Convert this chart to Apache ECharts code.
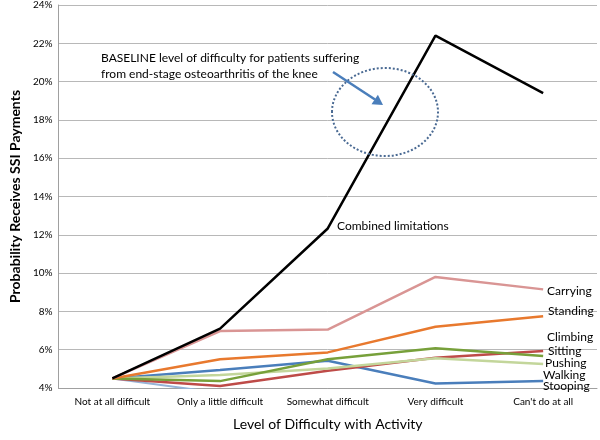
<!DOCTYPE html>
<html>
<head>
<meta charset="utf-8">
<script src="https://cdn.jsdelivr.net/npm/echarts@6/dist/echarts.min.js"></script>
<style>
  html, body { margin: 0; padding: 0; background: #fff; }
  #chart { width: 600px; height: 440px; }
</style>
</head>
<body>
<div id="chart"></div>
<script>
// categories on x axis
const levels = ["Not at all difficult", "Only a little difficult", "Somewhat difficult", "Very difficult", "Can't do at all"];

// probability (%) of receiving SSI payments, per activity
const combined = [4.5, 7.1, 12.33, 22.4, 19.4];
const carrying = [4.5, 6.97, 7.05, 9.8, 9.15];
const standing = [4.5, 5.5, 5.86, 7.2, 7.75];
const climbing = [4.5, 4.36, 5.5, 6.07, 5.67];
const sitting = [4.5, 4.1, 4.9, 5.58, 5.93];
const pushing = [4.5, 4.68, 5.02, 5.55, 5.25];
const walking = [4.5, 3.74, 3.7, 3.6, 3.6];
const stooping = [4.5, 4.94, 5.42, 4.24, 4.36];

const yTicks = { min: 4, max: 24, step: 2 };

const font = "Lato, 'Open Sans', sans-serif";

const chartDom = document.getElementById("chart");
const myChart = echarts.init(chartDom);

function line(name, data, color, width) {
  return {
    name: name,
    type: "line",
    data: data,
    symbol: "none",
    clip: true,
    lineStyle: { color: color, width: width },
    itemStyle: { color: color },
    animation: false,
  };
}

// text labels next to the line ends
const endLabels = [
  ["Carrying", 547, 291],
  ["Standing", 548, 311],
  ["Climbing", 547, 337],
  ["Sitting", 548, 351],
  ["Pushing", 545, 363],
  ["Walking", 543, 375],
  ["Stooping", 543, 386],
  ["Combined limitations", 337, 226],
];

const graphics = endLabels.map(function (l) {
  return {
    type: "text",
    x: l[1],
    y: l[2],
    z: 100,
    style: {
      text: l[0],
      font: "12px " + font,
      fill: "#000",
      textAlign: "left",
      textVerticalAlign: "middle",
    },
  };
});

// annotation
graphics.push({
  type: "text",
  x: 101,
  y: 50,
  z: 100,
  style: {
    text: "BASELINE level of difficulty for patients suffering\nfrom end-stage osteoarthritis of the knee",
    font: "12px " + font,
    lineHeight: 16,
    fill: "#000",
  },
});
graphics.push({
  type: "ellipse",
  z: 90,
  shape: { cx: 385, cy: 112, rx: 53, ry: 44 },
  style: { fill: "none", stroke: "#4A6A93", lineWidth: 2, lineDash: [2, 2] },
});
graphics.push({
  type: "line",
  z: 95,
  shape: { x1: 333, y1: 72, x2: 375, y2: 99.5 },
  style: { stroke: "#4A7EBB", lineWidth: 2.5 },
});
graphics.push({
  type: "polygon",
  z: 95,
  shape: { points: [[383, 105], [371.5, 104.2], [377.9, 94.8]] },
  style: { fill: "#4A7EBB" },
});

const option = {
  backgroundColor: "#fff",
  animation: false,
  grid: { left: 47, right: 3, top: 4, bottom: 52, containLabel: false },
  xAxis: {
    type: "category",
    data: levels,
    boundaryGap: true,
    name: "Level of Difficulty with Activity",
    nameLocation: "middle",
    nameGap: 29,
    nameTextStyle: { fontFamily: font, fontSize: 14, color: "#000" },
    axisLine: { lineStyle: { color: "#A0A0A0", width: 1 } },
    axisTick: { show: false },
    axisLabel: { fontFamily: font, fontSize: 10, color: "#000", margin: 9, interval: 0 },
  },
  yAxis: {
    type: "value",
    min: yTicks.min,
    max: yTicks.max,
    interval: yTicks.step,
    name: "Probability Receives SSI Payments",
    nameLocation: "middle",
    nameGap: 28,
    nameTextStyle: { fontFamily: font, fontSize: 14, color: "#000", fontWeight: "bold" },
    axisLine: { show: true, lineStyle: { color: "#A0A0A0", width: 1 } },
    axisTick: { show: false },
    axisLabel: { fontFamily: font, fontSize: 10, color: "#000", margin: 6, formatter: "{value}%" },
    splitLine: { lineStyle: { color: "#B8B8B8", width: 1 } },
  },
  series: [
    line("Walking", walking, "#95B3D7", 2),
    line("Stooping", stooping, "#4A7EBB", 2.5),
    line("Sitting", sitting, "#BE4B48", 2.5),
    line("Pushing", pushing, "#C3D69B", 2.5),
    line("Climbing", climbing, "#77A03A", 2.5),
    line("Standing", standing, "#E8792E", 2.5),
    line("Carrying", carrying, "#D99594", 2.5),
    line("Combined limitations", combined, "#000", 2.5),
  ],
  graphic: graphics,
};

option && myChart.setOption(option);
</script>
</body>
</html>
